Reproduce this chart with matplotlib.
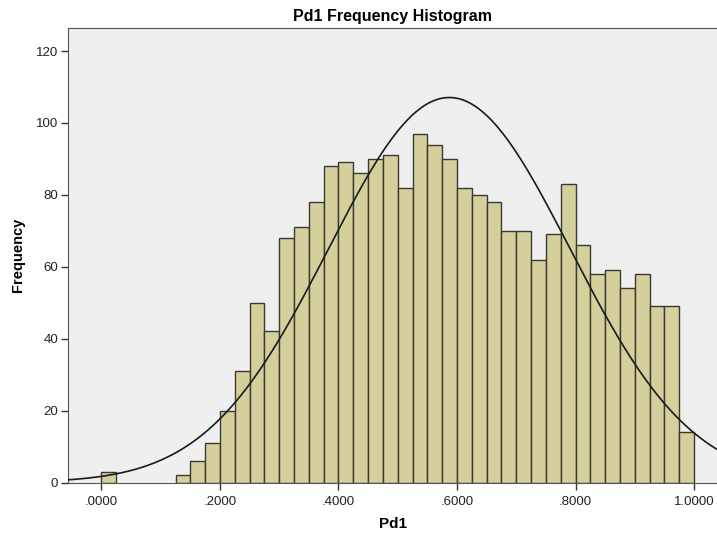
import numpy as np
import matplotlib.pyplot as plt

# Anchos de clase de 0.025, conteos
bin_left = [0.0] + [0.125 + 0.025 * i for i in range(35)]
counts = [3,
          2, 6, 11, 20, 31, 50, 42, 68, 71, 78, 88, 89, 86, 90, 91, 82, 97,
          94, 90, 82, 80, 78, 70, 70, 62, 69, 83, 66, 58, 59, 54, 58, 49, 49, 14]
bin_width = 0.025

# Curva normal (media y desvio)
media = 0.587
desvio = 0.204
n_total = sum(counts)

x_ticks = [0.0, 0.2, 0.4, 0.6, 0.8, 1.0]
x_tick_labels = [".0000", ".2000", ".4000", ".6000", ".8000", "1.0000"]
y_ticks = [0, 20, 40, 60, 80, 100, 120]

plt.rcParams["font.family"] = ["Liberation Sans", "DejaVu Sans"]

fig = plt.figure(figsize=(7.17, 5.34), dpi=100)
ax = fig.add_axes([68 / 717, 51.5 / 534, 649 / 717, 454.5 / 534])
ax.set_facecolor("#efefef")

ax.bar(bin_left, counts, width=bin_width, align="edge",
       color="#d4cf9b", edgecolor="#3a3a32", linewidth=1.0, zorder=2)

xs = np.linspace(-0.06, 1.05, 400)
ys = n_total * bin_width / (desvio * np.sqrt(2 * np.pi)) * np.exp(-0.5 * ((xs - media) / desvio) ** 2)
ax.plot(xs, ys, color="#1a1a1a", linewidth=1.2, zorder=3)

ax.set_xlim(-0.0565, 1.0388)
ax.set_ylim(0, 126.4)
ax.set_xticks(x_ticks)
ax.set_xticklabels(x_tick_labels)
ax.set_yticks(y_ticks)
ax.tick_params(axis="both", direction="out", length=5, width=1,
               color="#333333", labelsize=9.5, labelcolor="#222222")
ax.tick_params(axis="x", pad=5)
ax.tick_params(axis="y", pad=2)
ax.spines["right"].set_visible(False)
for s in ["left", "bottom", "top"]:
    ax.spines[s].set_color("#555555")

ax.set_title("Pd1 Frequency Histogram", fontsize=11.5, fontweight="bold", pad=5)
ax.set_xlabel("Pd1", fontsize=11, fontweight="bold", labelpad=6)
ax.set_ylabel("Frequency", fontsize=10.5, fontweight="bold", labelpad=8)

fig.savefig("out.png", dpi=100)
